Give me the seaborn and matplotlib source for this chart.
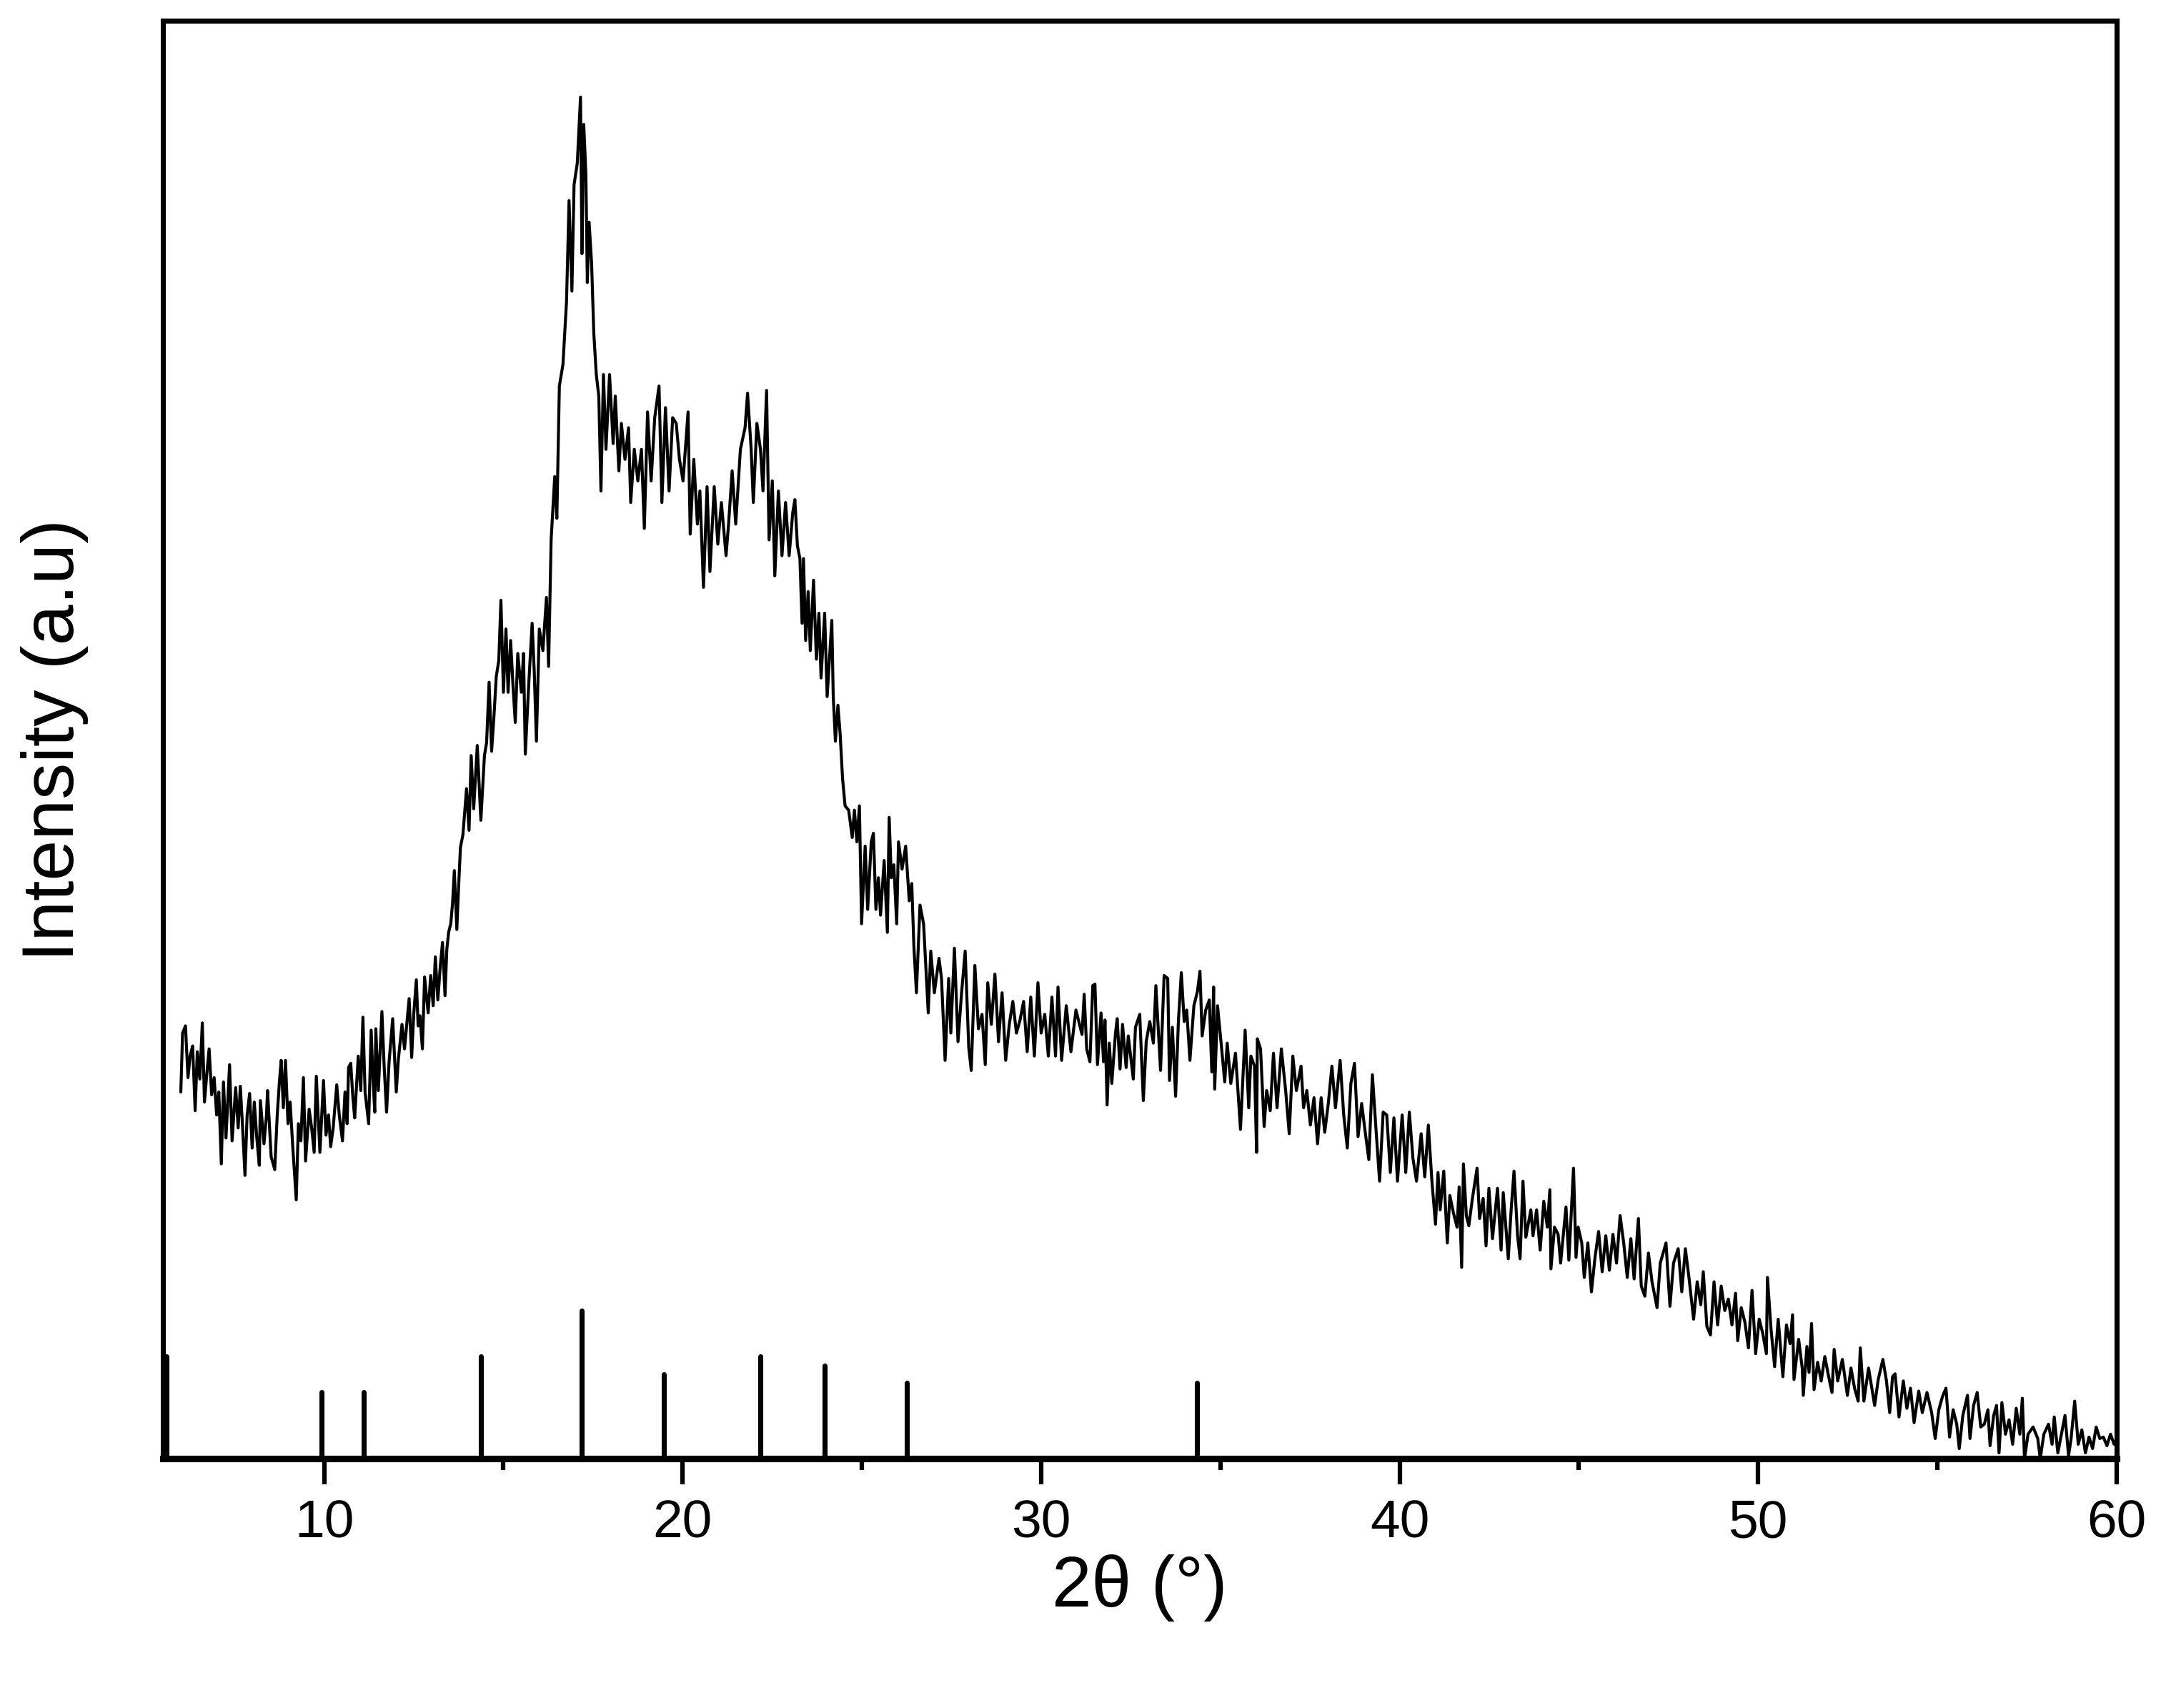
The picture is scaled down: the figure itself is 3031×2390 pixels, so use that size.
import numpy as np
import pandas as pd
import matplotlib
matplotlib.use("Agg")
import matplotlib.pyplot as plt
import seaborn as sns
from matplotlib.ticker import MultipleLocator

# XRD pattern (2theta in degrees, intensity in arbitrary units)
two_theta = [
    6.00, 6.05, 6.13, 6.20, 6.26, 6.33, 6.40, 6.46, 6.53, 6.60, 6.66, 6.73, 6.79, 6.86, 6.93,
    7.00, 7.06, 7.13, 7.19, 7.26, 7.36, 7.43, 7.53, 7.60, 7.66, 7.72, 7.79, 7.85, 7.92, 7.99,
    8.05, 8.12, 8.19, 8.22, 8.32, 8.39, 8.42, 8.52, 8.62, 8.69, 8.75, 8.80, 8.86, 8.92, 8.99,
    9.05, 9.12, 9.22, 9.28, 9.35, 9.42, 9.48, 9.58, 9.65, 9.72, 9.78, 9.88, 9.98,
    10.05, 10.12, 10.18, 10.25, 10.35, 10.42, 10.51, 10.58, 10.64, 10.68, 10.74, 10.80, 10.85, 10.95,
    11.02, 11.08, 11.14, 11.24, 11.31, 11.36, 11.41, 11.44, 11.51, 11.56, 11.61, 11.67, 11.74, 11.81, 11.91,
    12.01, 12.07, 12.17, 12.24, 12.30, 12.37, 12.44, 12.50, 12.57, 12.62, 12.67, 12.74, 12.80, 12.90, 12.97,
    13.04, 13.10, 13.17, 13.24, 13.30, 13.37, 13.42, 13.47, 13.53, 13.58, 13.63, 13.70, 13.75, 13.80, 13.87,
    13.97, 14.04, 14.10, 14.17, 14.27, 14.37, 14.47, 14.53, 14.60, 14.67, 14.73, 14.80, 14.87, 14.93,
    15.00, 15.07, 15.13, 15.20, 15.27, 15.33, 15.40, 15.50, 15.56, 15.61, 15.70, 15.80, 15.86, 15.92,
    16.00, 16.10, 16.20, 16.26, 16.33, 16.43, 16.49, 16.56, 16.66, 16.76, 16.83, 16.91, 16.97,
    17.06, 17.15, 17.19, 17.24, 17.30, 17.34, 17.39, 17.46, 17.52, 17.59, 17.66, 17.72, 17.79, 17.86, 17.96,
    18.06, 18.12, 18.22, 18.29, 18.39, 18.49, 18.55, 18.65, 18.75, 18.85, 18.93,
    19.02, 19.12, 19.22, 19.34, 19.42, 19.52, 19.62, 19.72, 19.82, 19.91,
    20.01, 20.15, 20.21, 20.31, 20.41, 20.48, 20.58, 20.68, 20.76, 20.88, 20.98,
    21.08, 21.21, 21.28, 21.38, 21.48, 21.61, 21.74, 21.81, 21.91, 21.97,
    22.07, 22.17, 22.24, 22.34, 22.41, 22.50, 22.57, 22.67, 22.77, 22.87, 22.97,
    23.07, 23.13, 23.20, 23.27, 23.33, 23.37, 23.43, 23.50, 23.56, 23.65, 23.73, 23.80, 23.86, 23.96,
    24.03, 24.16, 24.20, 24.26, 24.33, 24.39, 24.46, 24.53, 24.63, 24.73, 24.79, 24.86, 24.93, 24.99,
    25.09, 25.16, 25.26, 25.32, 25.39, 25.46, 25.52, 25.62, 25.71, 25.76, 25.82, 25.89, 25.97,
    26.02, 26.12, 26.22, 26.32, 26.39, 26.45, 26.52, 26.62, 26.72, 26.85, 26.92,
    27.02, 27.15, 27.22, 27.32, 27.42, 27.48, 27.58, 27.68, 27.78, 27.88, 27.98,
    28.05, 28.15, 28.25, 28.35, 28.44, 28.51, 28.61, 28.71, 28.81, 28.91,
    29.01, 29.11, 29.21, 29.31, 29.41, 29.51, 29.61, 29.71, 29.81, 29.91,
    30.00, 30.10, 30.20, 30.30, 30.40, 30.47, 30.57, 30.70, 30.83, 30.97,
    31.14, 31.20, 31.27, 31.36, 31.44, 31.50, 31.57, 31.67, 31.74, 31.78, 31.84, 31.90, 31.97,
    32.07, 32.12, 32.20, 32.27, 32.37, 32.43, 32.57, 32.63, 32.75, 32.85, 32.93,
    33.03, 33.13, 33.20, 33.33, 33.43, 33.53, 33.58, 33.66, 33.75, 33.83, 33.91, 33.99,
    34.06, 34.15, 34.26, 34.36, 34.43, 34.49, 34.59, 34.69, 34.76, 34.81, 34.84, 34.92,
    35.02, 35.12, 35.19, 35.29, 35.42, 35.56, 35.69, 35.79, 35.85, 35.95,
    36.01, 36.03, 36.12, 36.22, 36.29, 36.39, 36.48, 36.58, 36.70, 36.82, 36.92,
    37.02, 37.12, 37.25, 37.32, 37.41, 37.51, 37.61, 37.71, 37.81, 37.91,
    38.01, 38.11, 38.21, 38.34, 38.44, 38.54, 38.64, 38.74, 38.84, 38.94,
    39.04, 39.14, 39.24, 39.34, 39.44, 39.54, 39.64, 39.74, 39.84, 39.94,
    40.07, 40.17, 40.27, 40.37, 40.47, 40.60, 40.70, 40.80, 40.90,
    41.00, 41.07, 41.13, 41.23, 41.27, 41.33, 41.40, 41.50, 41.60, 41.66, 41.73, 41.78, 41.86, 41.93,
    42.03, 42.16, 42.23, 42.33, 42.41, 42.49, 42.59, 42.73, 42.83, 42.89,
    43.03, 43.11, 43.19, 43.29, 43.36, 43.44, 43.52, 43.66, 43.72, 43.82, 43.92,
    44.02, 44.12, 44.19, 44.22, 44.32, 44.42, 44.49, 44.64, 44.72, 44.85, 44.92, 44.98,
    45.08, 45.15, 45.25, 45.35, 45.45, 45.55, 45.65, 45.75, 45.85, 45.95,
    46.05, 46.15, 46.25, 46.35, 46.45, 46.54, 46.66, 46.74, 46.84, 46.94,
    47.04, 47.18, 47.27, 47.43, 47.54, 47.64, 47.77, 47.87, 47.97,
    48.07, 48.20, 48.30, 48.40, 48.47, 48.57, 48.67, 48.77, 48.87, 48.97,
    49.07, 49.17, 49.27, 49.37, 49.43, 49.53, 49.63, 49.73, 49.83, 49.93,
    50.03, 50.13, 50.23, 50.26, 50.36, 50.46, 50.56, 50.69, 50.79, 50.89, 50.96,
    51.00, 51.13, 51.23, 51.26, 51.36, 51.42, 51.49, 51.56, 51.66, 51.76, 51.86, 51.96,
    52.06, 52.12, 52.22, 52.35, 52.49, 52.59, 52.69, 52.79, 52.85, 52.95,
    53.08, 53.25, 53.35, 53.48, 53.58, 53.67, 53.75, 53.82, 53.93,
    54.05, 54.15, 54.25, 54.35, 54.48, 54.58, 54.71, 54.84, 54.94,
    55.04, 55.14, 55.24, 55.34, 55.44, 55.54, 55.61, 55.71, 55.84, 55.91,
    56.01, 56.11, 56.21, 56.31, 56.41, 56.47, 56.57, 56.65, 56.72, 56.80, 56.90,
    57.00, 57.10, 57.20, 57.30, 57.37, 57.43, 57.53, 57.67, 57.80, 57.87, 57.97,
    58.10, 58.20, 58.26, 58.36, 58.46, 58.56, 58.66, 58.73, 58.83, 58.93,
    59.03, 59.13, 59.23, 59.33, 59.43, 59.53, 59.63, 59.73, 59.83, 59.93, 60.00,
]

intensity = [
    25.5, 29.6, 30.1, 26.5, 28.0, 28.7, 24.2, 28.3, 26.4, 30.3, 24.8, 26.9, 28.5, 25.3, 26.5,
    23.9, 25.5, 20.5, 26.2, 22.3, 27.4, 22.1, 25.8, 23.0, 25.9, 23.2, 19.7, 23.9, 25.4, 21.6,
    24.8, 22.3, 20.4, 24.9, 21.9, 23.9, 25.6, 21.0, 20.1, 23.9, 26.2, 27.7, 24.4, 27.7, 23.3,
    24.8, 21.8, 18.0, 23.3, 22.1, 26.5, 20.7, 24.3, 23.0, 21.3, 26.6, 21.3, 26.3,
    22.5, 23.9, 21.7, 23.0, 26.0, 23.9, 22.1, 25.5, 23.3, 27.2, 27.5, 25.1, 23.7, 28.0,
    25.6, 30.7, 25.5, 23.3, 29.8, 26.5, 24.1, 29.9, 25.6, 28.3, 31.1, 27.4, 24.1, 27.6, 30.6,
    25.5, 27.8, 30.2, 28.5, 30.1, 32.0, 27.9, 31.0, 33.3, 30.1, 30.8, 28.5, 33.5, 31.0, 33.6,
    31.5, 34.9, 31.9, 34.3, 35.9, 32.2, 35.4, 36.6, 37.2, 38.6, 40.9, 36.8, 39.8, 42.5, 43.4,
    46.6, 43.7, 48.9, 45.2, 49.6, 44.4, 48.9, 49.8, 54.0, 49.2, 51.4, 54.4, 55.5, 59.7,
    53.3, 57.7, 53.3, 56.9, 53.6, 51.2, 56.0, 53.3, 56.0, 49.0, 53.6, 58.1, 54.7, 49.9,
    57.7, 56.2, 59.9, 55.1, 63.9, 68.3, 65.4, 74.6, 76.1, 80.5, 87.5, 81.2, 88.6,
    90.1, 94.7, 83.8, 92.8, 89.3, 81.8, 86.0, 83.1, 78.3, 75.4, 73.9, 67.3, 75.4, 70.2, 75.4,
    70.6, 73.9, 68.7, 72.0, 69.5, 71.7, 66.5, 70.2, 68.0, 70.2, 64.7,
    72.8, 68.0, 72.4, 74.6, 66.5, 73.1, 67.3, 72.4, 72.0, 69.5,
    68.0, 72.8, 64.3, 69.5, 65.0, 67.3, 60.6, 67.6, 61.7, 67.6, 63.6,
    66.5, 62.8, 65.0, 68.7, 65.0, 70.2, 71.7, 74.1, 70.2, 66.5,
    72.0, 70.2, 67.3, 74.3, 63.9, 68.0, 61.4, 67.3, 62.8, 66.5, 62.8,
    65.8, 66.7, 63.5, 62.6, 58.1, 62.6, 56.9, 60.3, 56.2, 61.1, 55.6, 58.8, 54.3, 58.8,
    53.0, 58.3, 53.0, 49.9, 52.4, 50.5, 47.3, 45.4, 45.1, 43.2, 45.1, 42.9, 45.4, 37.2,
    42.6, 38.2, 42.9, 43.5, 38.2, 40.4, 37.8, 41.6, 36.6, 44.6, 40.4, 41.3, 37.2,
    42.9, 41.0, 42.6, 38.8, 40.0, 35.6, 32.4, 38.5, 37.2, 31.0, 35.3,
    32.4, 34.8, 33.4, 27.7, 33.4, 29.6, 35.5, 29.0, 32.4, 35.3, 28.6,
    27.0, 34.3, 29.9, 30.9, 27.4, 33.1, 30.2, 33.7, 29.0, 32.4,
    27.7, 30.2, 31.8, 29.6, 30.5, 31.8, 28.3, 32.1, 28.0, 33.1,
    29.6, 30.9, 28.0, 32.1, 28.0, 32.8, 27.7, 31.5, 28.3, 31.2,
    29.5, 32.3, 28.5, 27.6, 32.9, 33.0, 27.4, 31.0, 27.6, 30.5, 24.6, 28.9, 26.1,
    29.5, 30.6, 27.1, 30.2, 27.2, 29.4, 26.4, 30.0, 30.9, 24.9, 29.0,
    30.4, 28.9, 32.9, 27.0, 33.6, 33.4, 26.3, 30.0, 25.2, 30.5, 33.8, 30.4,
    31.2, 27.7, 31.5, 32.5, 33.9, 29.4, 31.2, 31.9, 26.9, 32.8, 25.7, 31.5,
    28.9, 26.2, 28.9, 26.1, 28.2, 22.9, 29.8, 24.4, 28.0, 27.3,
    21.3, 29.2, 28.5, 23.1, 25.6, 24.2, 28.2, 24.4, 28.5, 25.6, 22.6,
    28.0, 25.6, 27.3, 24.4, 25.6, 23.2, 25.1, 21.9, 25.1, 22.7,
    24.7, 27.3, 24.4, 27.7, 23.9, 21.6, 26.1, 27.5, 22.4, 24.7,
    22.7, 20.8, 26.7, 22.9, 19.3, 24.1, 23.9, 19.9, 23.7, 19.3,
    23.9, 19.9, 24.1, 20.9, 19.3, 22.6, 19.6, 23.2, 19.3,
    16.3, 19.9, 17.3, 20.0, 17.9, 15.0, 18.3, 17.1, 16.1, 18.9, 13.3, 20.5, 16.9, 16.2,
    18.1, 20.2, 16.7, 18.1, 14.8, 18.8, 15.3, 18.8, 14.5, 18.5,
    13.9, 17.3, 20.0, 15.5, 13.9, 19.3, 15.4, 17.3, 15.5, 17.3, 14.5,
    17.9, 16.1, 18.7, 13.2, 16.1, 15.6, 13.6, 17.5, 13.8, 20.2, 14.0, 16.1,
    15.0, 12.6, 15.0, 11.6, 14.0, 15.8, 13.0, 15.5, 13.1, 15.6,
    13.6, 16.9, 15.0, 12.6, 15.3, 12.5, 16.7, 12.0, 11.3, 14.3,
    12.3, 10.5, 13.6, 15.0, 10.6, 13.6, 14.6, 11.6, 14.6,
    12.6, 9.7, 12.3, 10.7, 13.0, 9.2, 8.6, 12.3, 9.3, 12.0,
    10.3, 11.1, 9.3, 11.5, 8.2, 10.5, 9.5, 7.7, 11.7, 7.3,
    9.7, 8.7, 7.3, 12.6, 9.0, 6.4, 9.7, 5.7, 9.3, 8.0, 10.0,
    5.5, 8.3, 6.3, 4.4, 7.8, 6.0, 9.4, 4.8, 6.7, 5.4, 7.1, 5.8,
    4.6, 7.6, 5.4, 6.9, 4.4, 6.3, 4.9, 4.0, 7.7, 4.0,
    6.3, 3.7, 5.5, 6.9, 5.4, 3.2, 5.7, 5.9, 2.9,
    5.4, 3.5, 4.9, 2.5, 4.7, 3.2, 4.6, 3.2, 1.4,
    3.4, 4.3, 4.9, 1.5, 3.4, 2.4, 0.7, 3.0, 4.4, 1.4,
    3.7, 4.6, 2.2, 2.4, 3.4, 0.9, 3.0, 3.7, 0.4, 3.9, 1.7,
    2.7, 1.0, 3.5, 1.7, 4.2, 0.0, 1.7, 2.2, 1.4, 0.0, 1.7,
    2.4, 1.0, 2.9, 0.4, 1.7, 3.0, 0.2, 1.4, 4.0, 1.0,
    2.0, 0.4, 1.5, 0.7, 2.2, 1.4, 1.5, 0.9, 1.7, 1.0, 1.4,
]

# reference stick pattern: peak positions and relative intensities (max = 100)
ref_pos = [5.61, 9.92, 11.10, 14.37, 17.19, 19.47, 22.17, 23.96, 26.25, 34.35]
ref_int = [69, 45, 45, 69, 100, 57, 69, 63, 51, 51]

sns.set_theme(style="ticks")
plt.rcParams["font.family"] = ["Liberation Sans", "DejaVu Sans"]
plt.rcParams["text.color"] = "black"
plt.rcParams["axes.labelcolor"] = "black"

df = pd.DataFrame({"two_theta": two_theta, "intensity": intensity})

fig = plt.figure(figsize=(3031 / 300, 2390 / 300), dpi=300)
ax = fig.add_axes([0.0752, 0.146, 0.9020, 0.8418])

sns.lineplot(data=df, x="two_theta", y="intensity", ax=ax, color="black",
             linewidth=1.0, estimator=None, sort=False)

stick_scale = 0.103
ax.vlines(ref_pos, 0, np.array(ref_int) * stick_scale, color="black",
          linewidth=1.7, capstyle="round")

ax.set_xlim(5.5, 60)
ax.set_ylim(0, 100)
ax.xaxis.set_major_locator(MultipleLocator(10))
ax.xaxis.set_minor_locator(MultipleLocator(5))
ax.set_yticks([])
ax.tick_params(axis="x", which="major", direction="out", length=8.6, width=1.5,
               labelsize=18, pad=5, colors="black")
ax.tick_params(axis="x", which="minor", direction="out", length=3.8, width=1.5,
               colors="black")
for sp in ax.spines.values():
    sp.set_visible(True)
    sp.set_linewidth(1.7)
    sp.set_color("black")
ax.spines["bottom"].set_linewidth(2.2)

ax.set_xlabel("2θ (°)", fontsize=24, labelpad=2, color="black")
ax.set_ylabel("Intensity (a.u)", fontsize=24.5, labelpad=25, color="black")

fig.savefig("out.png", dpi=300, facecolor="white")
